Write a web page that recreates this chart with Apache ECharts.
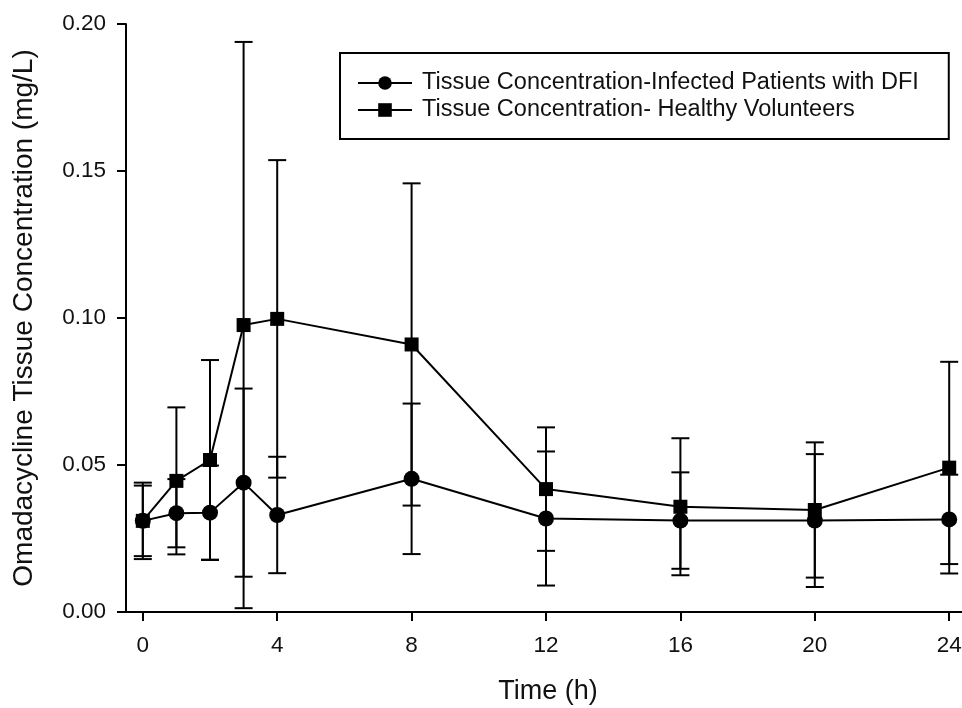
<!DOCTYPE html>
<html>
<head>
<meta charset="utf-8">
<script src="https://cdn.jsdelivr.net/npm/echarts@6/dist/echarts.min.js"></script>
<style>
html,body{margin:0;padding:0;background:#fff;}
#chart{width:962px;height:708px;}
</style>
</head>
<body>
<div id="chart"></div>
<script>
// Data
var times = [0, 1, 2, 3, 4, 8, 12, 16, 20, 24];
var infectedMean = [0.031, 0.0336, 0.0338, 0.044, 0.033, 0.0453, 0.0318, 0.0311, 0.0311, 0.0315];
var infectedSD   = [0.012, 0.0116, 0.016, 0.032, 0.0198, 0.0256, 0.0228, 0.0164, 0.0226, 0.0152];
var healthyMean  = [0.031, 0.0446, 0.0517, 0.0976, 0.0997, 0.091, 0.0418, 0.0358, 0.0347, 0.0491];
var healthySD    = [0.013, 0.025, 0.034, 0.0963, 0.054, 0.0548, 0.021, 0.0233, 0.023, 0.036];
var xTicks = [0, 4, 8, 12, 16, 20, 24];
var yTicks = [0, 0.05, 0.10, 0.15, 0.20];
var seriesNames = ['Tissue Concentration-Infected Patients with DFI', 'Tissue Concentration- Healthy Volunteers'];

var FONT = 'Liberation Sans, Arial, sans-serif';
var INK = '#000';

function pairs(m) { return times.map(function (t, i) { return [t, m[i]]; }); }
function bars(m, s) { return times.map(function (t, i) { return [t, m[i] - s[i], m[i] + s[i]]; }); }

function errRender(params, api) {
  var x = api.value(0), lo = api.value(1), hi = api.value(2);
  var pt = api.coord([x, hi]), pb = api.coord([x, lo]);
  var hw = 9;
  var st = { stroke: INK, lineWidth: 2 };
  return {
    type: 'group',
    children: [
      { type: 'line', shape: { x1: pt[0], y1: pt[1], x2: pb[0], y2: pb[1] }, style: st },
      { type: 'line', shape: { x1: pt[0] - hw, y1: pt[1], x2: pt[0] + hw, y2: pt[1] }, style: st },
      { type: 'line', shape: { x1: pb[0] - hw, y1: pb[1], x2: pb[0] + hw, y2: pb[1] }, style: st }
    ]
  };
}

var chart = echarts.init(document.getElementById('chart'), null, { renderer: 'canvas' });
chart.setOption({
  animation: false,
  backgroundColor: '#fff',
  textStyle: { fontFamily: FONT, color: '#111' },
  grid: { left: 126, top: 24, width: 840, height: 588, containLabel: false, outerBoundsMode: 'none' },
  legend: {
    orient: 'vertical',
    left: 340, top: 53,
    data: seriesNames,
    borderColor: INK, borderWidth: 2,
    padding: [18, 30, 17, 17],
    itemWidth: 54, itemHeight: 17, itemGap: 3,
    textStyle: { fontFamily: FONT, fontSize: 23.5, color: '#111', padding: [0, 0, 0, 5] }
  },
  xAxis: {
    type: 'value', min: -0.5, max: 24.5,
    name: 'Time (h)', nameLocation: 'middle', nameGap: 66,
    nameTextStyle: { fontFamily: FONT, fontSize: 27, color: '#111', padding: [0, 0, 0, 4] },
    axisLine: { onZero: false, lineStyle: { color: INK, width: 2 } },
    axisTick: { show: true, length: 9, lineStyle: { color: INK, width: 2 }, customValues: xTicks },
    axisLabel: { fontFamily: FONT, fontSize: 22.5, color: '#111', margin: 22, customValues: xTicks },
    splitLine: { show: false }
  },
  yAxis: {
    type: 'value', min: 0, max: 0.2, interval: 0.05,
    name: 'Omadacycline Tissue Concentration (mg/L)', nameLocation: 'middle', nameGap: 88,
    nameTextStyle: { fontFamily: FONT, fontSize: 28, color: '#111' },
    axisLine: { show: true, onZero: false, lineStyle: { color: INK, width: 2 } },
    axisTick: { show: true, length: 9, lineStyle: { color: INK, width: 2 } },
    axisLabel: { fontFamily: FONT, fontSize: 22.5, color: '#111', margin: 20, padding: [4, 0, 0, 0],
      formatter: function (v) { return v.toFixed(2); } },
    splitLine: { show: false }
  },
  series: [
    { type: 'custom', name: 'err1', renderItem: errRender, data: bars(infectedMean, infectedSD), z: 1, silent: true },
    { type: 'custom', name: 'err2', renderItem: errRender, data: bars(healthyMean, healthySD), z: 1, silent: true },
    {
      type: 'line', name: seriesNames[0], data: pairs(infectedMean), z: 3,
      symbol: 'circle', symbolSize: 16,
      lineStyle: { color: INK, width: 2 }, itemStyle: { color: INK }
    },
    {
      type: 'line', name: seriesNames[1], data: pairs(healthyMean), z: 3,
      symbol: 'rect', symbolSize: 14,
      lineStyle: { color: INK, width: 2 }, itemStyle: { color: INK }
    }
  ]
});
</script>
</body>
</html>
